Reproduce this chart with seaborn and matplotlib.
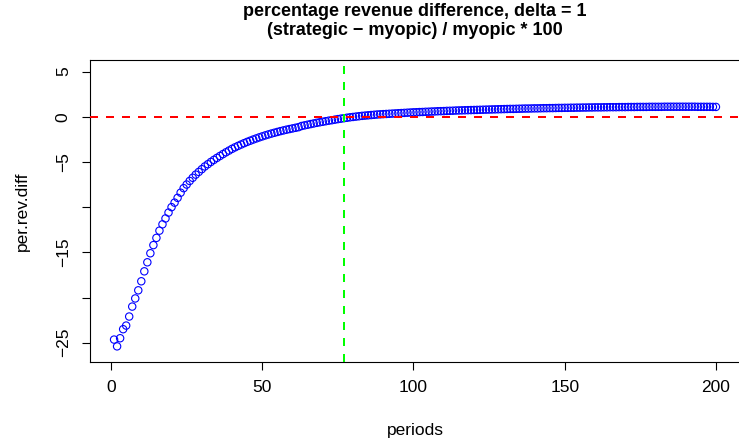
import matplotlib
matplotlib.use("Agg")
import matplotlib.pyplot as plt
import seaborn as sns
import pandas as pd

# percentage revenue difference per period, (strategic - myopic) / myopic * 100
periods = list(range(1, 201))
per_rev_diff = [
    -24.65, -25.40, -24.50, -23.50, -23.10, -22.10, -21.00, -20.10, -19.20, -18.20,
    -17.10, -16.10, -15.10, -14.20, -13.40, -12.60, -11.90, -11.25, -10.60, -10.00,
    -9.50, -8.97, -8.40, -7.90, -7.50, -7.10, -6.75, -6.40, -6.10, -5.80,
    -5.50, -5.25, -5.00, -4.77, -4.55, -4.34, -4.13, -3.93, -3.74, -3.55,
    -3.38, -3.22, -3.07, -2.92, -2.78, -2.65, -2.52, -2.40, -2.28, -2.17,
    -2.06, -1.96, -1.86, -1.77, -1.68, -1.59, -1.51, -1.43, -1.36, -1.29,
    -1.22, -1.15, -1.02, -0.95, -0.88, -0.81, -0.74, -0.67, -0.61, -0.55,
    -0.49, -0.43, -0.38, -0.32, -0.26, -0.21, -0.16, -0.11, -0.06, -0.02,
    0.02, 0.06, 0.10, 0.13, 0.16, 0.19, 0.22, 0.25, 0.27, 0.29,
    0.31, 0.33, 0.35, 0.37, 0.39, 0.41, 0.43, 0.45, 0.47, 0.49,
    0.50, 0.52, 0.53, 0.55, 0.56, 0.58, 0.59, 0.61, 0.62, 0.63,
    0.65, 0.66, 0.67, 0.69, 0.70, 0.71, 0.72, 0.73, 0.74, 0.75,
    0.76, 0.77, 0.78, 0.79, 0.80, 0.81, 0.82, 0.83, 0.84, 0.85,
    0.86, 0.87, 0.87, 0.88, 0.89, 0.90, 0.91, 0.91, 0.92, 0.93,
    0.93, 0.94, 0.95, 0.95, 0.96, 0.96, 0.97, 0.98, 0.98, 0.99,
    0.99, 1.00, 1.00, 1.01, 1.01, 1.02, 1.02, 1.03, 1.03, 1.04,
    1.04, 1.04, 1.05, 1.05, 1.06, 1.06, 1.06, 1.07, 1.07, 1.07,
    1.08, 1.08, 1.08, 1.09, 1.09, 1.09, 1.09, 1.10, 1.10, 1.10,
    1.10, 1.10, 1.11, 1.11, 1.11, 1.11, 1.11, 1.11, 1.11, 1.11,
    1.11, 1.11, 1.11, 1.10, 1.10, 1.10, 1.10, 1.10, 1.09, 1.09,
]
crossing_period = 77

x_ticks = [0, 50, 100, 150, 200]
y_ticks = [5, 0, -5, -10, -15, -20, -25]
y_tick_labels = ["5", "0", "\u22125", "", "\u221215", "", "\u221225"]

df = pd.DataFrame({"periods": periods, "per.rev.diff": per_rev_diff})

sns.set_style("ticks")
plt.rcParams["font.family"] = ["Liberation Sans", "DejaVu Sans"]
plt.rcParams["text.color"] = "black"
plt.rcParams["axes.labelcolor"] = "black"

fig = plt.figure(figsize=(7.39, 4.47), dpi=100)
ax = fig.add_axes([90 / 739, 1 - 362 / 447, 650 / 739, 302 / 447])

sns.scatterplot(data=df, x="periods", y="per.rev.diff", ax=ax,
                marker="o", s=28, facecolors="none", edgecolor="#0000FF",
                linewidth=0.8, legend=False)

ax.axhline(0, color="#FF0000", linewidth=1.44, linestyle=(0, (4, 4)), zorder=3)
ax.axvline(crossing_period, color="#00FF00", linewidth=1.44,
           linestyle=(0, (4, 4)), zorder=3)

ax.set_xlim(-6.96, 207.96)
ax.set_ylim(-27.13, 6.28)
ax.set_xticks(x_ticks)
ax.set_yticks(y_ticks)
ax.set_yticklabels(y_tick_labels, rotation=90, va="center")

for side in ["top", "right", "bottom", "left"]:
    ax.spines[side].set_visible(True)
    ax.spines[side].set_color("black")
    ax.spines[side].set_linewidth(0.8)

ax.tick_params(axis="both", direction="out", length=5.8, width=0.8,
               color="black", labelsize=12.5, labelcolor="black")
ax.tick_params(axis="x", pad=7)
ax.tick_params(axis="y", pad=8)

ax.set_xlabel("periods", fontsize=12.5, labelpad=20)
ax.set_ylabel("per.rev.diff", fontsize=12.5, labelpad=19)
ax.set_title("percentage revenue difference, delta = 1\n(strategic \u2212 myopic) / myopic * 100",
             fontsize=13, fontweight="bold", linespacing=1.15, pad=18)

fig.savefig("out.png", dpi=100)
